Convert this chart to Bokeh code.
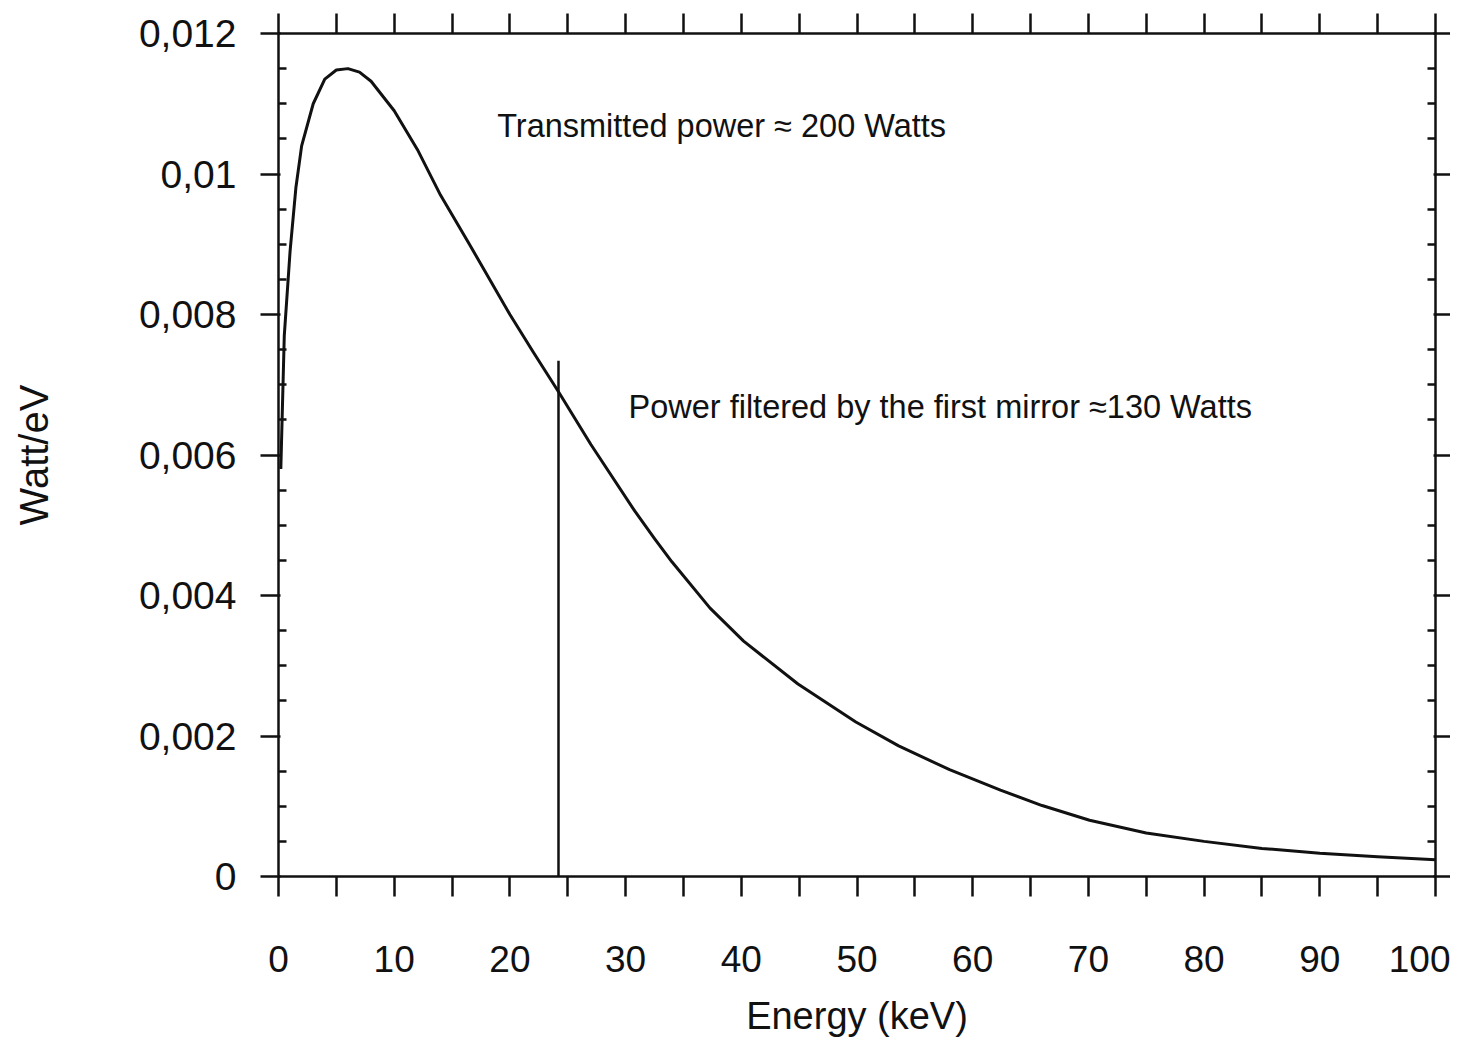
from bokeh.plotting import figure
from bokeh.models import LinearAxis, FixedTicker, Label, Range1d, ColumnDataSource
from bokeh.embed import file_html
from bokeh.resources import INLINE

# ---- data ----
energy_kev = [0.2, 0.5, 1.0, 1.5, 2.0, 3.0, 4.0, 5.0, 6.0, 7.0, 8.0, 10.0, 12.0, 14.0,
              16.5, 20.0, 22.0, 24.2, 27.0, 30.8, 32.5, 34.0, 37.3, 40.2, 44.9, 49.9,
              53.6, 58.0, 62.4, 66.0, 70.1, 75.0, 80.0, 85.0, 90.0, 95.0, 100.0]
watt_per_ev = [0.0058, 0.0077, 0.0089, 0.0098, 0.0104, 0.0110, 0.01135, 0.01148, 0.0115,
               0.01145, 0.01132, 0.0109, 0.01035, 0.0097, 0.0090, 0.0080, 0.00747, 0.0069,
               0.00615, 0.0052, 0.00481, 0.00448, 0.00382, 0.00335, 0.00274, 0.0022,
               0.00186, 0.00152, 0.00123, 0.00101, 0.00080, 0.00062, 0.00050, 0.00040,
               0.00033, 0.00028, 0.00024]

mirror_cut_x = [24.2, 24.2]
mirror_cut_y = [0.0, 0.00734]

x_major_ticks = [0, 10, 20, 30, 40, 50, 60, 70, 80, 90, 100]
x_minor_ticks = [5, 15, 25, 35, 45, 55, 65, 75, 85, 95]
y_major_ticks = [0.0, 0.002, 0.004, 0.006, 0.008, 0.010, 0.012]
y_tick_labels = ["0", "0,002", "0,004", "0,006", "0,008", "0,01", "0,012"]
y_minor_ticks = [0.0005, 0.001, 0.0015, 0.0025, 0.003, 0.0035, 0.0045, 0.005, 0.0055,
                 0.0065, 0.007, 0.0075, 0.0085, 0.009, 0.0095, 0.0105, 0.011, 0.0115]

text_total = "Transmitted power \u2248 200 Watts"
text_mirror = "Power filtered by the first mirror \u2248130 Watts"

FONT = "Liberation Sans"
INK = "#111111"

p = figure(width=1450, height=1039, output_backend="svg", toolbar_location=None,
           x_range=Range1d(0, 100), y_range=Range1d(0, 0.012),
           min_border_left=278, min_border_right=15, min_border_top=33,
           min_border_bottom=159, background_fill_color="white",
           border_fill_color="white")
p.outline_line_color = None
p.grid.visible = False

src = ColumnDataSource(dict(x=energy_kev, y=watt_per_ev))
p.line("x", "y", source=src, line_color=INK, line_width=3, line_join="round")
p.line(mirror_cut_x, mirror_cut_y, line_color=INK, line_width=2.5)

def style(ax):
    ax.axis_line_color = INK
    ax.axis_line_width = 2.5
    ax.major_tick_line_color = INK
    ax.major_tick_line_width = 2.5
    ax.minor_tick_line_color = INK
    ax.minor_tick_line_width = 2.5

# bottom axis
xb = p.xaxis[0]
xb.ticker = FixedTicker(ticks=x_major_ticks, minor_ticks=x_minor_ticks)
style(xb)
xb.major_tick_out = 20
xb.major_tick_in = 0
xb.minor_tick_out = 20
xb.minor_tick_in = 0
xb.major_label_standoff = 49
xb.major_label_text_font = FONT
xb.major_label_text_font_size = "37px"
xb.major_label_text_color = INK
xb.axis_label = "Energy (keV)"
xb.axis_label_text_font = FONT
xb.axis_label_text_font_size = "38px"
xb.axis_label_text_font_style = "normal"
xb.axis_label_text_color = INK
xb.axis_label_standoff = 20

# left axis
yl = p.yaxis[0]
yl.ticker = FixedTicker(ticks=y_major_ticks, minor_ticks=y_minor_ticks)
yl.major_label_overrides = {v: s for v, s in zip(y_major_ticks, y_tick_labels)}
style(yl)
yl.major_tick_out = 18
yl.major_tick_in = 2
yl.minor_tick_out = 0
yl.minor_tick_in = 8
yl.major_label_standoff = 24
yl.major_label_text_font = FONT
yl.major_label_text_font_size = "39px"
yl.major_label_text_color = INK
yl.axis_label = "Watt/eV"
yl.axis_label_text_font = FONT
yl.axis_label_text_font_size = "40px"
yl.axis_label_text_font_style = "normal"
yl.axis_label_text_color = INK
yl.axis_label_standoff = 80

# top axis (ticks only)
xt = LinearAxis(ticker=FixedTicker(ticks=x_major_ticks, minor_ticks=x_minor_ticks))
style(xt)
xt.major_tick_out = 20
xt.major_tick_in = 0
xt.minor_tick_out = 20
xt.minor_tick_in = 0
xt.major_label_text_color = None
xt.major_label_text_font_size = "1px"
p.add_layout(xt, "above")

# right axis (ticks only)
yr = LinearAxis(ticker=FixedTicker(ticks=y_major_ticks, minor_ticks=y_minor_ticks))
style(yr)
yr.major_tick_out = 15
yr.major_tick_in = 2
yr.minor_tick_out = 0
yr.minor_tick_in = 8
yr.major_label_text_color = None
yr.major_label_text_font_size = "1px"
p.add_layout(yr, "right")

p.add_layout(Label(x=18.9, y=0.01069, text=text_total, text_font=FONT,
                   text_font_size="32.5px", text_color=INK,
                   text_align="left", text_baseline="middle"))
p.add_layout(Label(x=30.25, y=0.00669, text=text_mirror, text_font=FONT,
                   text_font_size="32.5px", text_color=INK,
                   text_align="left", text_baseline="middle"))

open("out.html", "w").write(file_html(p, INLINE))
